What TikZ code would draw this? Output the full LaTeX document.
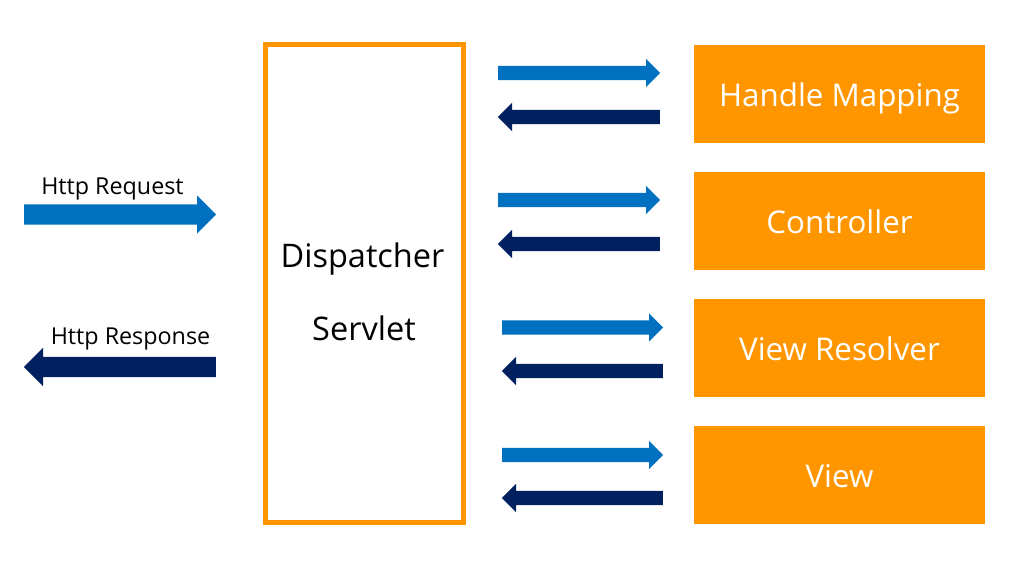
\documentclass[tikz,border=0pt]{standalone}
\usepackage{fontspec}
\setmainfont{Open Sans}
\usetikzlibrary{shapes.arrows}
\definecolor{reqblue}{HTML}{0070C0}
\definecolor{navy}{HTML}{002060}
\definecolor{orng}{HTML}{FF9600}
\tikzset{
  comp/.style={fill=orng, draw=none, minimum width=291pt, minimum height=98pt, inner sep=0pt},
  comptext/.style={text=white, anchor=base, font=\fontsize{31.3}{36}\selectfont, inner sep=0pt},
  blk/.style={single arrow, draw=none, inner sep=0pt, minimum width=28pt, single arrow head extend=7pt, text height=14pt, text depth=0pt, single arrow tip angle=90, anchor=tail},
  fwd/.style={blk, fill=reqblue},
  bwd/.style={blk, fill=navy, shape border rotate=180},
  bigblk/.style={single arrow, draw=none, inner sep=0pt, minimum width=38pt, single arrow head extend=9pt, text height=20pt, text depth=0pt, single arrow tip angle=90, minimum height=192pt, anchor=tail},
  lbl/.style={anchor=base, inner sep=0pt, font=\fontsize{23.3}{27}\selectfont},
  dsp/.style={anchor=base, inner sep=0pt, font=\fontsize{32.5}{38}\selectfont}
}
\begin{document}
\begin{tikzpicture}[x=1pt,y=-1pt]
\useasboundingbox (0,0) rectangle (1019,577);
% dispatcher
\draw[orng, line width=5pt] (265.5,44.5) rectangle (463.5,522.5);
\node[dsp] (d1) at (362.5,267) {Dispatcher};
\node[dsp] (d2) at (364,340) {Servlet};
% components
\node[comp] (hm) at (839.5,94) {};
\node[comp] (ct) at (839.5,221) {};
\node[comp] (vr) at (839.5,348) {};
\node[comp] (vw) at (839.5,475) {};
\node[comptext] (hmt) at (839.5,106.5) {Handle Mapping};
\node[comptext] (ctt) at (839.5,233.5) {Controller};
\node[comptext] (vrt) at (839.5,360.5) {View Resolver};
\node[comptext] (vwt) at (839.5,487.5) {View};
% small arrows
\node[fwd, minimum height=162pt] (a1) at (498,73) {};
\node[bwd, minimum height=162pt] (b1) at (660,117) {};
\node[fwd, minimum height=162pt] (a2) at (498,200) {};
\node[bwd, minimum height=162pt] (b2) at (660,244) {};
\node[fwd, minimum height=161pt] (a3) at (502,327.5) {};
\node[bwd, minimum height=161pt] (b3) at (663,371) {};
\node[fwd, minimum height=161pt] (a4) at (502,455) {};
\node[bwd, minimum height=161pt] (b4) at (663,498) {};
% http arrows
\node[bigblk, fill=reqblue] (req) at (24,214.5) {};
\node[bigblk, fill=navy, shape border rotate=180] (res) at (216,367) {};
\node[lbl] (reqt) at (112.5,195) {Http Request};
\node[lbl] (rest) at (130.5,344) {Http Response};
\end{tikzpicture}
\end{document}
